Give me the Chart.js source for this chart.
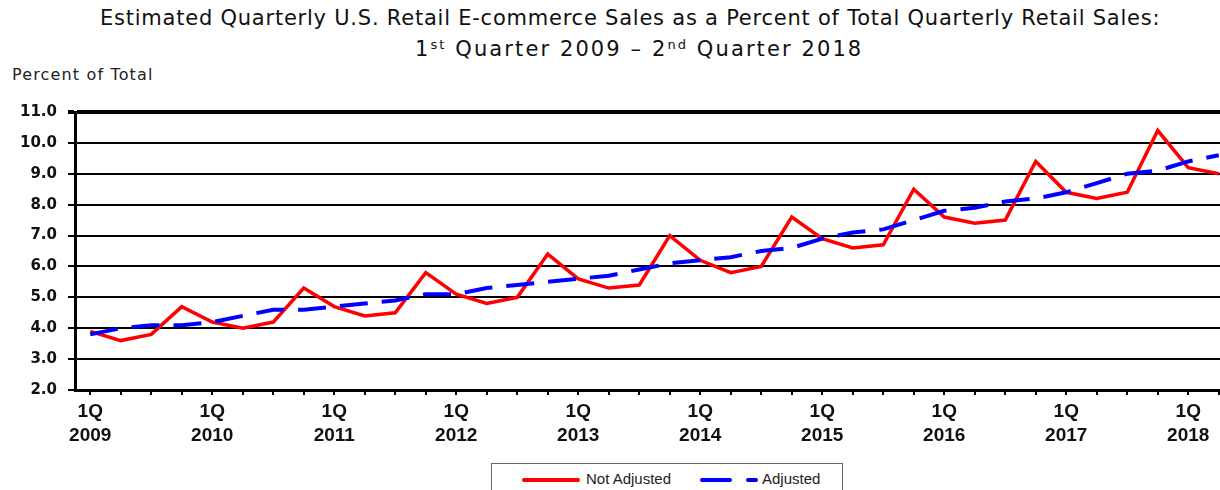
<!DOCTYPE html>
<html>
<head>
<meta charset="utf-8">
<script src="https://cdn.jsdelivr.net/npm/chart.js@4/dist/chart.umd.min.js"></script>
<style>
    html, body { margin: 0; padding: 0; background: #fff; overflow: hidden; width: 1220px; height: 490px; }
    .title { position: absolute; white-space: nowrap; font-family: "DejaVu Sans", Verdana, sans-serif; color: #111; }
    .title sup { font-size: 13px; vertical-align: 7px; line-height: 0; }
    #t1 { top: 6px; left: 100px; font-size: 21px; letter-spacing: 0.77px; }
    #t2 { top: 37px; left: 415px; font-size: 21px; letter-spacing: 2.1px; }
    #ylabel { position: absolute; left: 12px; top: 65px; font-family: "DejaVu Sans", Verdana, sans-serif; font-size: 16px; letter-spacing: 1.15px; color: #222; }
    #chart { position: absolute; left: 0; top: 0; }
    #legend { position: absolute; left: 491px; top: 463px; width: 350px; height: 40px; border: 1px solid #666; font-family: "Liberation Sans", Arial, sans-serif; font-size: 15px; color: #222; }
    .sw { position: absolute; top: 14px; height: 4px; border-radius: 2px; }
    .lt { position: absolute; top: 6px; }
</style>
</head>
<body>
<div class="title" id="t1">Estimated Quarterly U.S. Retail E-commerce Sales as a Percent of Total Quarterly Retail Sales:</div>
<div class="title" id="t2">1<sup>st</sup> Quarter 2009 – 2<sup>nd</sup> Quarter 2018</div>
<div id="ylabel">Percent of Total</div>
<canvas id="chart" width="1234" height="460"></canvas>
<div id="legend">
    <span class="sw" style="left:30px;width:58px;background:#ff0000"></span>
    <span class="lt" style="left:94px">Not Adjusted</span>
    <span class="sw" style="left:208px;width:32px;background:#0000ff"></span>
    <span class="sw" style="left:254px;width:12px;background:#0000ff"></span>
    <span class="lt" style="left:270px">Adjusted</span>
</div>
<script>
const quarters = [
    '1Q 2009', '2Q 2009', '3Q 2009', '4Q 2009',
    '1Q 2010', '2Q 2010', '3Q 2010', '4Q 2010',
    '1Q 2011', '2Q 2011', '3Q 2011', '4Q 2011',
    '1Q 2012', '2Q 2012', '3Q 2012', '4Q 2012',
    '1Q 2013', '2Q 2013', '3Q 2013', '4Q 2013',
    '1Q 2014', '2Q 2014', '3Q 2014', '4Q 2014',
    '1Q 2015', '2Q 2015', '3Q 2015', '4Q 2015',
    '1Q 2016', '2Q 2016', '3Q 2016', '4Q 2016',
    '1Q 2017', '2Q 2017', '3Q 2017', '4Q 2017',
    '1Q 2018', '2Q 2018'
];

const notAdjusted = [
    3.9, 3.6, 3.8, 4.7,
    4.2, 4.0, 4.2, 5.3,
    4.7, 4.4, 4.5, 5.8,
    5.1, 4.8, 5.0, 6.4,
    5.6, 5.3, 5.4, 7.0,
    6.2, 5.8, 6.0, 7.6,
    6.9, 6.6, 6.7, 8.5,
    7.6, 7.4, 7.5, 9.4,
    8.4, 8.2, 8.4, 10.4,
    9.2, 9.0
];

const adjusted = [
    3.8, 4.0, 4.1, 4.1,
    4.2, 4.4, 4.6, 4.6,
    4.7, 4.8, 4.9, 5.1,
    5.1, 5.3, 5.4, 5.5,
    5.6, 5.7, 5.9, 6.1,
    6.2, 6.3, 6.5, 6.6,
    6.9, 7.1, 7.2, 7.5,
    7.8, 7.9, 8.1, 8.2,
    8.4, 8.7, 9.0, 9.1,
    9.4, 9.6
];

const yMin = 2, yMax = 11;

const ctx = document.getElementById('chart').getContext('2d');
new Chart(ctx, {
    type: 'line',
    data: {
        labels: quarters,
        datasets: [
            {
                label: 'Not Adjusted',
                data: notAdjusted,
                borderColor: '#ff0000',
                borderWidth: 3.5,
                pointRadius: 0,
                tension: 0,
                fill: false,
                order: 1
            },
            {
                label: 'Adjusted',
                data: adjusted,
                borderColor: '#0000ff',
                borderWidth: 4,
                borderDash: [28, 14],
                pointRadius: 0,
                tension: 0,
                fill: false,
                order: 0
            }
        ]
    },
    options: {
        responsive: false,
        animation: false,
        devicePixelRatio: 1,
        layout: { padding: { top: 112, left: 0, right: 0, bottom: 0 } },
        plugins: {
            legend: { display: false },
            title: { display: false },
            tooltip: { enabled: false }
        },
        scales: {
            x: {
                type: 'category',
                offset: true,
                afterFit: s => { s.height = 70; },
                border: { display: true, color: '#000', width: 3 },
                grid: {
                    drawOnChartArea: false,
                    drawTicks: true,
                    tickLength: 5,
                    color: '#000',
                    lineWidth: 2,
                    offset: false
                },
                ticks: {
                    autoSkip: false,
                    maxRotation: 0,
                    minRotation: 0,
                    padding: 5,
                    color: '#111',
                    font: { family: '"Liberation Sans", Arial, sans-serif', size: 19, weight: 'bold', lineHeight: 1.27 },
                    callback: function (val, i) {
                        const lab = quarters[i];
                        if (lab.startsWith('1Q')) return lab.split(' ');
                        return '';
                    }
                }
            },
            y: {
                min: yMin,
                max: yMax,
                afterFit: s => { s.width = 75; },
                border: { display: true, color: '#000', width: 3 },
                grid: {
                    color: '#000',
                    lineWidth: c => (c.tick && c.tick.value === yMax) ? 4 : 2,
                    tickLength: 7
                },
                ticks: {
                    stepSize: 1,
                    padding: 11,
                    color: '#111',
                    font: { family: '"DejaVu Sans", Verdana, sans-serif', size: 15, weight: 'bold' },
                    callback: v => Number(v).toFixed(1)
                }
            }
        }
    }
});
</script>
</body>
</html>
